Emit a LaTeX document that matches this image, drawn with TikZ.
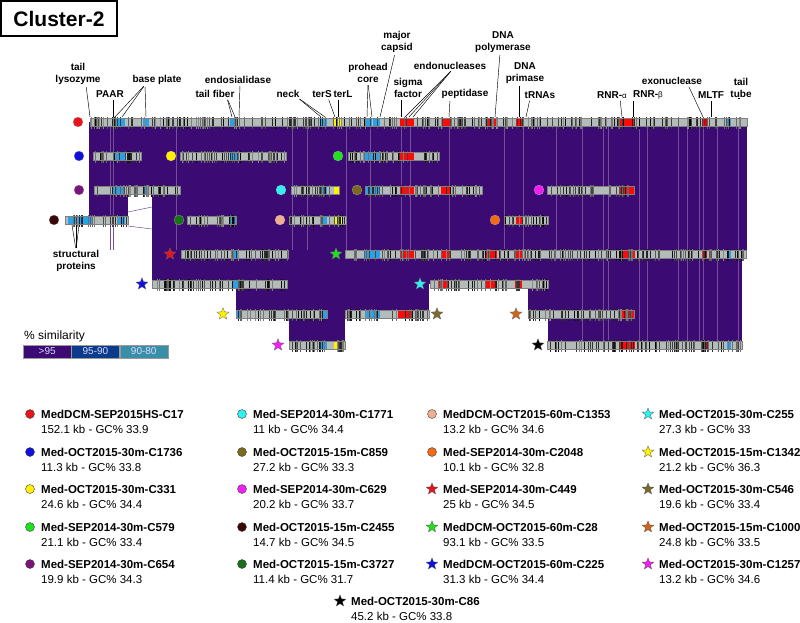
\documentclass[tikz,border=0pt]{standalone}
\usepackage{fontspec}
\setmainfont{Liberation Sans}
\usepackage{tikz}
\usetikzlibrary{shapes.geometric}
\definecolor{simpurple}{HTML}{3B0A72}
\definecolor{simblue}{HTML}{0B3C8C}
\definecolor{simteal}{HTML}{3A8FA8}
\definecolor{bargrey}{HTML}{B3BCB8}
\definecolor{genblue}{HTML}{2AA0E6}
\definecolor{genred}{HTML}{FF0A0A}
\definecolor{genyellow}{HTML}{FFF200}
\definecolor{mred}{HTML}{E8141B}
\definecolor{mblue}{HTML}{1010D8}
\definecolor{myellow}{HTML}{FFF000}
\definecolor{mgreen}{HTML}{20E020}
\definecolor{mpurple}{HTML}{7A147A}
\definecolor{mdbrown}{HTML}{3A0808}
\definecolor{mcyan}{HTML}{30F0F0}
\definecolor{molive}{HTML}{7A6A20}
\definecolor{mmagenta}{HTML}{F020F0}
\definecolor{mdgreen}{HTML}{187018}
\definecolor{mpeach}{HTML}{F0B090}
\definecolor{morange}{HTML}{F06A18}
\definecolor{sbrown}{HTML}{7A6A30}
\definecolor{sorange}{HTML}{D0641A}
\colorlet{faintline}{simpurple!72!white}

% y, x1, x2, coloured genes
\newcommand{\genome}[4]{%
  \fill[bargrey] (#2,#1-4) rectangle (#3,#1+4);
  \foreach \ga/\gb/\gc in {#4} {\fill[fill=\gc] (\ga,#1-4) rectangle (\gb,#1+4);}
  \pgfmathtruncatemacro{\nt}{(#3-#2)/2.3}
  \foreach \k in {1,...,\nt} {
    \pgfmathsetmacro{\tx}{#2+1+rnd*(#3-#2-2)}
    \pgfmathtruncatemacro{\tk}{45+55*rnd}
    \draw[black!\tk, line width=0.4pt] (\tx,#1-5) -- (\tx,#1+6.5);
  }
  \draw[black!50, line width=0.3pt] (#2,#1-4) rectangle (#3,#1+4);
}

% id, x, y, marker, name, info
\newcommand{\legentry}[6]{%
  \node[#4] (#1-m) at (#2,#3) {};
  \node[legname] (#1-n) at (#2+11,#3) {#5};
  \node[leginfo] (#1-i) at (#2+11,#3+15) {#6};
}

\begin{document}
\begin{tikzpicture}[x=1pt,y=-1pt,
    gene label/.style={font=\fontsize{10}{12.5}\selectfont\bfseries, align=center, inner sep=0},
    leader/.style={black, line width=0.45pt, shorten <=2pt},
    circmark/.style={circle, inner sep=0, minimum size=10pt, draw=black!30, line width=0.2pt},
    starmark/.style={star, star points=5, star point ratio=2.3, inner sep=0, minimum size=12.5pt, draw=black!60, line width=0.3pt},
    lcirc/.style={circle, inner sep=0, minimum size=9pt, draw=black!75, line width=0.4pt},
    lstar/.style={star, star points=5, star point ratio=2.3, inner sep=0, minimum size=12pt, draw=black!70, line width=0.3pt},
    legname/.style={font=\fontsize{11.5}{13}\selectfont\bfseries, inner sep=0, anchor=west},
    leginfo/.style={font=\fontsize{11.5}{13}\selectfont, inner sep=0, anchor=west},
    scalebox/.style={draw=black!40, line width=0.3pt, text=white!85!blue, font=\fontsize{10}{12}\selectfont, inner sep=0, minimum height=13pt, minimum width=48pt, anchor=west}]
\useasboundingbox (0,0) rectangle (800,622);
\pgfmathsetseed{11}

\node[draw, line width=1.3pt, minimum width=116pt, minimum height=35pt, inner sep=0,
  font=\fontsize{21}{24}\selectfont\bfseries] (title) at (59,18.5) {Cluster-2};

% similarity blocks
\fill[simpurple] (89,122) rectangle (747,190);
\fill[simpurple] (89,190) rectangle (128,220);
\fill[simpurple] (152,190) rectangle (747,254);
\fill[simpurple] (152,254) rectangle (742,284);
\fill[simpurple] (236,284) rectangle (429,314);
\fill[simpurple] (528,284) rectangle (742,314);
\fill[simpurple] (289,314) rectangle (345,345);
\fill[simpurple] (548,314) rectangle (742,345);
\foreach \x in {110,113,176,292,307,346,370,401,410,449,504,523,556} {
  \draw[faintline, line width=0.4pt] (\x,127) -- (\x,250);
}
\foreach \x in {582,603,608,639,647,678,687,699,703,717,738} {
  \draw[faintline, line width=0.4pt] (\x,127) -- (\x,341);
}
\draw[faintline, line width=0.5pt] (128,212) -- (152,207);
\draw[faintline, line width=0.5pt] (128,226) -- (152,229);

% genomes
\genome{122}{90}{747}{90/92/genblue,113/125/genblue,143/149/genblue,230/238/genblue,320/327/genblue,334/342/genyellow,365/372/genblue,373/380/genblue,400/407/genred,407/414/genred,441/451/genred,486/497/genred,516/522/genred,620/629/genred,629/635/genred,702/707/genred!80!black,727/731/genblue}
\genome{156}{93}{141}{113/125/genblue}
\genome{156}{180}{286}{230/238/genblue}
\genome{156}{348}{439}{365/380/genblue,400/414/genred}
\genome{190}{94}{180}{113/125/genblue,143/149/genblue}
\genome{190}{291}{339}{320/327/genblue,334/339/genyellow}
\genome{190}{365}{482}{365/380/genblue,400/414/genred,441/450/genred}
\genome{190}{547}{634}{620/634/genred}
\genome{220}{65}{128}{68/92/genblue,118/125/genblue}
\genome{220}{187}{236}{229/236/genblue}
\genome{220}{289}{346}{320/327/genblue,334/342/genyellow}
\genome{220}{504}{548}{516/522/genred}
\genome{254}{181}{288}{232/239/genblue}
\genome{254}{345}{746}{365/380/genblue,400/414/genred,441/451/genred,486/497/genred,516/522/genred,620/635/genred,702/707/genred!80!black,727/731/genblue}
\genome{284}{152}{287}{232/239/genblue}
\genome{284}{430}{548}{439/449/genred,485/496/genred,515/522/genred}
\genome{314}{236}{327}{236/240/genblue,320/327/genblue}
\genome{314}{345}{429}{365/380/genblue,398/413/genred}
\genome{314}{528}{634}{620/634/genred}
\genome{345}{289}{345}{320/327/genblue,334/342/genyellow}
\genome{345}{547}{742}{620/635/genred,702/707/genred!80!black,727/731/genblue}

% contig markers
\node[circmark, fill=mred] (c17) at (78,122) {};
\node[circmark, fill=mblue] (c1736) at (79,156) {};
\node[circmark, fill=myellow] (c331) at (171,156) {};
\node[circmark, fill=mgreen] (c579) at (338,156) {};
\node[circmark, fill=mpurple] (c654) at (79,190) {};
\node[circmark, fill=mcyan] (c1771) at (281,190) {};
\node[circmark, fill=molive] (c859) at (357,190) {};
\node[circmark, fill=mmagenta] (c629) at (539,190) {};
\node[circmark, fill=mdbrown] (c2455) at (54,220) {};
\node[circmark, fill=mdgreen] (c3727) at (179,220) {};
\node[circmark, fill=mpeach] (c1353) at (280,220) {};
\node[circmark, fill=morange] (c2048) at (495,220) {};
\node[starmark, fill=mred] (c449) at (170,254) {};
\node[starmark, fill=mgreen] (c28) at (336,254) {};
\node[starmark, fill=mblue] (c225) at (142,284) {};
\node[starmark, fill=mcyan] (c255) at (420,284) {};
\node[starmark, fill=myellow] (c1342) at (223,314) {};
\node[starmark, fill=sbrown] (c546) at (437,314) {};
\node[starmark, fill=sorange] (c1000) at (516,314) {};
\node[starmark, fill=mmagenta] (c1257) at (278,345) {};
\node[starmark, fill=black] (c86) at (538,345) {};

% gene labels
\foreach \n/\x in {tlyso/90,tpaar/113,tbp1/115,tbp2/122,tbp3/146,tendos/239,ttf1/232,ttf2/235,
    tneck1/321,tneck2/325,tters/335,tterl/338,tph1/367,tph2/372,tcap/380,tsig/401,
    ten1/405,ten2/409,ten3/413,tpep/449,tpol/495,tpri/519,ttrna/526,tra/622,trb/633,
    texo/703,tmltf/711,ttube/728}
  \coordinate (\n) at (\x,117);
\foreach \n/\x in {tst1/72,tst2/76,tst3/79}
  \coordinate (\n) at (\x,225);

\node[gene label] (lyso) at (78,74) {tail\\lysozyme};
\node[gene label] (paar) at (110,94) {PAAR};
\node[gene label] (bplate) at (157,80) {base plate};
\node[gene label] (endos) at (238,80) {endosialidase};
\node[gene label] (tfiber) at (215,94) {tail fiber};
\node[gene label] (neck) at (288,94) {neck};
\node[gene label] (ters) at (322,94) {terS};
\node[gene label] (terl) at (343,94) {terL};
\node[gene label] (prohead) at (368,73) {prohead\\core};
\node[gene label] (capsid) at (397,42) {major\\capsid};
\node[gene label] (sigma) at (408,88) {sigma\\factor};
\node[gene label] (endonuc) at (450,66) {endonucleases};
\node[gene label] (pept) at (465,94) {peptidase};
\node[gene label] (polym) at (503,42) {DNA\\polymerase};
\node[gene label] (primase) at (525,73) {DNA\\primase};
\node[gene label] (trnas) at (540,95) {tRNAs};
\node[gene label] (rnra) at (612,95) {RNR-{\fontsize{8}{9}\selectfont\mdseries α}};
\node[gene label] (rnrb) at (648,95) {RNR-{\fontsize{8}{9}\selectfont\mdseries β}};
\node[gene label] (exo) at (672,81) {exonuclease};
\node[gene label] (mltf) at (711,95) {MLTF};
\node[gene label] (ttube) at (741,88) {tail\\tube};
\node[gene label] (struct) at (76,261) {structural\\proteins};

\draw[leader] ([xshift=8pt]lyso.south) -- (tlyso);
\draw[leader] ([xshift=3pt]paar.south) -- (tpaar);
\foreach \t in {tbp1,tbp2,tbp3} \draw[leader] ([xshift=-12pt]bplate.south) -- (\t);
\draw[leader] ([xshift=2pt]endos.south) -- (tendos);
\foreach \t in {ttf1,ttf2} \draw[leader] ([xshift=12pt]tfiber.south) -- (\t);
\foreach \t in {tneck1,tneck2} \draw[leader] ([xshift=10pt]neck.south) -- (\t);
\draw[leader] ([xshift=6pt]ters.south) -- (tters);
\draw[leader] ([xshift=-5pt]terl.south) -- (tterl);
\foreach \t in {tph1,tph2} \draw[leader] (prohead.south) -- (\t);
\draw[leader] ([xshift=-2pt]capsid.south) -- (tcap);
\draw[leader] ([xshift=-7pt]sigma.south) -- (tsig);
\foreach \t in {ten1,ten2,ten3} \draw[leader] ([xshift=2pt]endonuc.south) -- (\t);
\draw[leader] ([xshift=-15pt]pept.south) -- (tpep);
\draw[leader] ([xshift=-3pt]polym.south) -- (tpol);
\draw[leader] ([xshift=-6pt]primase.south) -- (tpri);
\draw[leader] ([xshift=-10pt]trnas.south) -- (ttrna);
\draw[leader] ([xshift=8pt]rnra.south) -- (tra);
\draw[leader] ([xshift=-15pt]rnrb.south) -- (trb);
\draw[leader] ([xshift=16pt]exo.south) -- (texo);
\draw[leader] (mltf.south) -- (tmltf);
\draw[leader] ([xshift=-3pt]ttube.south) -- (ttube);
\foreach \t in {tst1,tst2,tst3} \draw[leader] (struct.north) -- (\t);

% similarity scale
\node[font=\fontsize{12}{14}\selectfont, inner sep=0, anchor=west] (simtitle) at (24,336) {\% similarity};
\node[scalebox, fill=simpurple] (s95) at (23,351.5) {>95};
\node[scalebox, fill=simblue] (s90) at (s95.east) {95-90};
\node[scalebox, fill=simteal] (s80) at (s90.east) {90-80};

% legend
\legentry{l17}{30}{414}{{lcirc, fill=mred}}{MedDCM-SEP2015HS-C17}{152.1 kb - GC\% 33.9}
\legentry{l1736}{30}{452}{{lcirc, fill=mblue}}{Med-OCT2015-30m-C1736}{11.3 kb - GC\% 33.8}
\legentry{l331}{30}{489}{{lcirc, fill=myellow}}{Med-OCT2015-30m-C331}{24.6 kb - GC\% 34.4}
\legentry{l579}{30}{527}{{lcirc, fill=mgreen}}{Med-SEP2014-30m-C579}{21.1 kb - GC\% 33.4}
\legentry{l654}{30}{564}{{lcirc, fill=mpurple}}{Med-SEP2014-30m-C654}{19.9 kb - GC\% 34.3}
\legentry{l1771}{242}{414}{{lcirc, fill=mcyan}}{Med-SEP2014-30m-C1771}{11 kb - GC\% 34.4}
\legentry{l859}{242}{452}{{lcirc, fill=molive}}{Med-OCT2015-15m-C859}{27.2 kb - GC\% 33.3}
\legentry{l629}{242}{489}{{lcirc, fill=mmagenta}}{Med-SEP2014-30m-C629}{20.2 kb - GC\% 33.7}
\legentry{l2455}{242}{527}{{lcirc, fill=mdbrown}}{Med-OCT2015-15m-C2455}{14.7 kb - GC\% 34.5}
\legentry{l3727}{242}{564}{{lcirc, fill=mdgreen}}{Med-OCT2015-15m-C3727}{11.4 kb - GC\% 31.7}
\legentry{l1353}{432}{414}{{lcirc, fill=mpeach}}{MedDCM-OCT2015-60m-C1353}{13.2 kb - GC\% 34.6}
\legentry{l2048}{432}{452}{{lcirc, fill=morange}}{Med-SEP2014-30m-C2048}{10.1 kb - GC\% 32.8}
\legentry{l449}{432}{489}{{lstar, fill=mred}}{Med-SEP2014-30m-C449}{25 kb - GC\% 34.5}
\legentry{l28}{432}{527}{{lstar, fill=mgreen}}{MedDCM-OCT2015-60m-C28}{93.1 kb - GC\% 33.5}
\legentry{l225}{432}{564}{{lstar, fill=mblue}}{MedDCM-OCT2015-60m-C225}{31.3 kb - GC\% 34.4}
\legentry{l255}{648}{414}{{lstar, fill=mcyan}}{Med-OCT2015-30m-C255}{27.3 kb - GC\% 33}
\legentry{l1342}{648}{452}{{lstar, fill=myellow}}{Med-OCT2015-15m-C1342}{21.2 kb - GC\% 36.3}
\legentry{l546}{648}{489}{{lstar, fill=sbrown}}{Med-OCT2015-30m-C546}{19.6 kb - GC\% 33.4}
\legentry{l1000}{648}{527}{{lstar, fill=sorange}}{Med-OCT2015-15m-C1000}{24.8 kb - GC\% 33.5}
\legentry{l1257}{648}{564}{{lstar, fill=mmagenta}}{Med-OCT2015-30m-C1257}{13.2 kb - GC\% 34.6}
\legentry{l86}{340}{601}{{lstar, fill=black}}{Med-OCT2015-30m-C86}{45.2 kb - GC\% 33.8}
\end{tikzpicture}
\end{document}
